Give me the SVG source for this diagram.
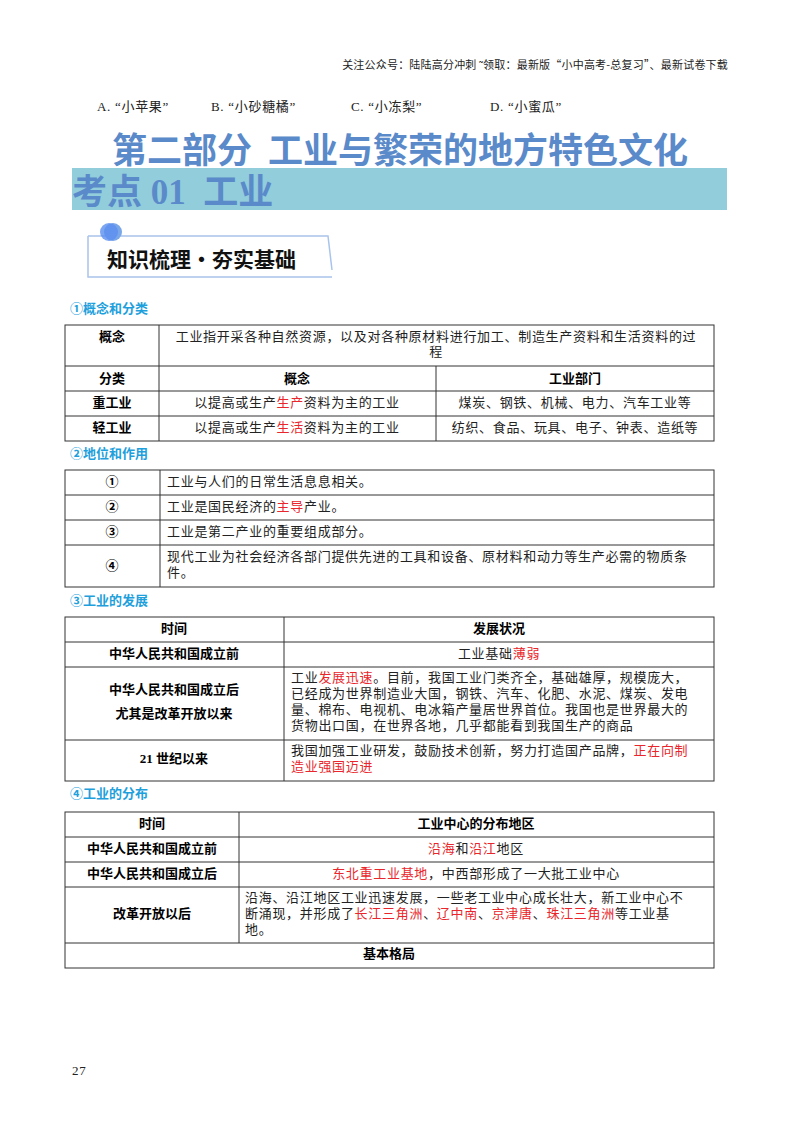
<svg xmlns="http://www.w3.org/2000/svg" width="800" height="1132" viewBox="0 0 800 1132">
<style>
text{font-family:"Liberation Serif","Noto Sans CJK SC",serif;font-size:13px;fill:#222;letter-spacing:0.7px}
.b{font-weight:bold;fill:#000;letter-spacing:0}
.r{fill:#e8262b}
.h{fill:#1ea0dc;font-weight:bold;font-size:13px;font-family:"Noto Sans CJK SC",sans-serif;letter-spacing:0}
.c{text-anchor:middle}
.t{fill:none;stroke:#333;stroke-width:1}
</style>
<rect width="800" height="1132" fill="#fff"/>
<text x="728" y="69" text-anchor="end" style="font-size:11px;font-family:'Noto Sans CJK SC',sans-serif;letter-spacing:0.2px">关注公众号：陆陆高分冲刺  ˜领取：最新版“小中高考-总复习”、最新试卷下载</text>
<text x="97" y="111">A. “小苹果”</text>
<text x="211" y="111">B. “小砂糖橘”</text>
<text x="351" y="111">C. “小冻梨”</text>
<text x="490" y="111">D. “小蜜瓜”</text>
<text x="400" y="163" class="c" style="font-size:35px;font-weight:bold;fill:#5a8ac9;font-family:'Noto Sans CJK SC',sans-serif;letter-spacing:0" xml:space="preserve">第二部分  工业与繁荣的地方特色文化</text>
<rect x="72" y="168" width="655" height="42" fill="#92cddc"/>
<text x="72" y="204" style="font-size:35px;font-weight:bold;fill:#5a8ac9;letter-spacing:0" xml:space="preserve">考点 01  工业</text>
<g id="badge">
<path d="M88 236 H328 L332 270 M88 236 V277 H332" fill="none" stroke="#a9c4ec" stroke-width="1.5"/>
<circle cx="113" cy="232" r="9" fill="#7aa6ea"/>
<circle cx="109" cy="232" r="9" fill="#5b8ff0" opacity="0.8"/>
<text x="107" y="267" style="font-size:21px;font-weight:bold;fill:#111;font-family:'Noto Sans CJK SC',sans-serif;letter-spacing:0">知识梳理·夯实基础</text>
</g>
<text x="70" y="313" class="h">①概念和分类</text>
<g id="t1">
<rect x="65" y="325" width="649" height="116" class="t"/>
<path d="M65 366H714M65 391H714M65 416H714M159 325V441M436 366V441" class="t"/>
<text x="112" y="341" class="c b">概念</text>
<text x="436" y="341" class="c">工业指开采各种自然资源，以及对各种原材料进行加工、制造生产资料和生活资料的过</text>
<text x="436" y="356" class="c">程</text>
<text x="112" y="383" class="c b">分类</text>
<text x="297" y="383" class="c b">概念</text>
<text x="575" y="383" class="c b">工业部门</text>
<text x="112" y="407" class="c b">重工业</text>
<text x="297" y="407" class="c">以提高或生产<tspan class="r">生产</tspan>资料为主的工业</text>
<text x="575" y="407" class="c">煤炭、钢铁、机械、电力、汽车工业等</text>
<text x="112" y="432" class="c b">轻工业</text>
<text x="297" y="432" class="c">以提高或生产<tspan class="r">生活</tspan>资料为主的工业</text>
<text x="575" y="432" class="c">纺织、食品、玩具、电子、钟表、造纸等</text>
</g>
<text x="70" y="458" class="h">②地位和作用</text>
<g id="t2">
<rect x="65" y="470" width="649" height="117" class="t"/>
<path d="M65 495H714M65 520H714M65 545H714M160 470V587" class="t"/>
<text x="112" y="486" class="c b">①</text>
<text x="167" y="486">工业与人们的日常生活息息相关。</text>
<text x="112" y="511" class="c b">②</text>
<text x="167" y="511">工业是国民经济的<tspan class="r">主导</tspan>产业。</text>
<text x="112" y="536" class="c b">③</text>
<text x="167" y="536">工业是第二产业的重要组成部分。</text>
<text x="112" y="570" class="c b">④</text>
<text x="167" y="561">现代工业为社会经济各部门提供先进的工具和设备、原材料和动力等生产必需的物质条</text>
<text x="167" y="577">件。</text>
</g>
<text x="70" y="605" class="h">③工业的发展</text>
<g id="t3">
<rect x="65" y="617" width="649" height="164" class="t"/>
<path d="M65 642H714M65 667H714M65 740H714M284 617V781" class="t"/>
<text x="174" y="633" class="c b">时间</text>
<text x="499" y="633" class="c b">发展状况</text>
<text x="174" y="658" class="c b">中华人民共和国成立前</text>
<text x="499" y="658" class="c">工业基础<tspan class="r">薄弱</tspan></text>
<text x="174" y="694" class="c b">中华人民共和国成立后</text>
<text x="174" y="718" class="c b">尤其是改革开放以来</text>
<text x="291" y="682">工业<tspan class="r">发展迅速</tspan>。目前，我国工业门类齐全，基础雄厚，规模庞大，</text>
<text x="291" y="698">已经成为世界制造业大国，钢铁、汽车、化肥、水泥、煤炭、发电</text>
<text x="291" y="714">量、棉布、电视机、电冰箱产量居世界首位。我国也是世界最大的</text>
<text x="291" y="730">货物出口国，在世界各地，几乎都能看到我国生产的商品</text>
<text x="174" y="763" class="c b">21 世纪以来</text>
<text x="291" y="755">我国加强工业研发，鼓励技术创新，努力打造国产品牌，<tspan class="r">正在向制</tspan></text>
<text x="291" y="771" class="r">造业强国迈进</text>
</g>
<text x="70" y="798" class="h">④工业的分布</text>
<g id="t4">
<rect x="65" y="812" width="649" height="156" class="t"/>
<path d="M65 837H714M65 862H714M65 887H714M65 943H714M239 812V943" class="t"/>
<text x="152" y="828" class="c b">时间</text>
<text x="476" y="828" class="c b">工业中心的分布地区</text>
<text x="152" y="853" class="c b">中华人民共和国成立前</text>
<text x="476" y="853" class="c"><tspan class="r">沿海</tspan>和<tspan class="r">沿江</tspan>地区</text>
<text x="152" y="878" class="c b">中华人民共和国成立后</text>
<text x="476" y="878" class="c"><tspan class="r">东北重工业基地</tspan>，中西部形成了一大批工业中心</text>
<text x="152" y="918" class="c b">改革开放以后</text>
<text x="245" y="902">沿海、沿江地区工业迅速发展，一些老工业中心成长壮大，新工业中心不</text>
<text x="245" y="918">断涌现，并形成了<tspan class="r">长江三角洲</tspan>、<tspan class="r">辽中南</tspan>、<tspan class="r">京津唐</tspan>、<tspan class="r">珠江三角洲</tspan>等工业基</text>
<text x="245" y="934">地。</text>
<text x="389" y="958" class="c b">基本格局</text>
</g>
<text x="72" y="1075" style="font-size:13px">27</text>
</svg>
